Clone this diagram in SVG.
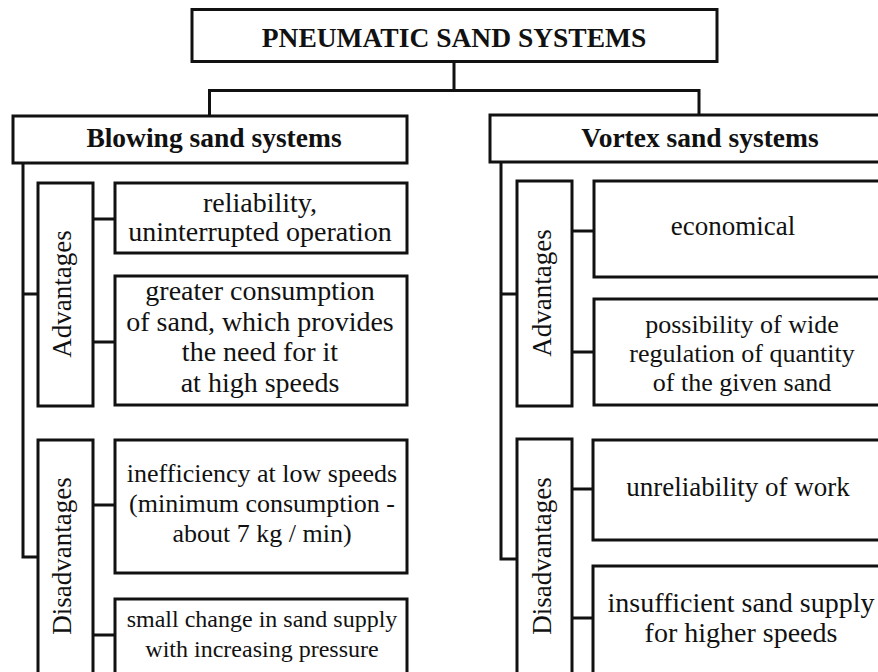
<svg xmlns="http://www.w3.org/2000/svg" width="878" height="672" viewBox="0 0 878 672">
  <style>
    .box { fill: #fff; stroke: #111; stroke-width: 3; }
    .conn { fill: none; stroke: #111; stroke-width: 3; }
    .t { font-family: "Liberation Serif", "Times New Roman", serif; font-size: 27px; text-anchor: middle; fill: #111; }
    .b { font-weight: bold; font-size: 27.5px; }
    .s28 { font-size: 28px; }
    .s26 { font-size: 26px; }
    .s24 { font-size: 24px; }
  </style>
  <rect width="878" height="672" fill="#fff"/>

  <!-- connectors -->
  <g id="connectors">
    <path class="conn" d="M454,61.5 V90.5 M209.5,90.5 H699 M209.5,89 V116 M699,89 V115"/>
    <!-- blowing column -->
    <path class="conn" d="M23,163 V557 H38 M23,294 H38"/>
    <path class="conn" d="M93,219 H115 M93,342 H115 M93,505 H115 M93,635 H115"/>
    <!-- vortex column -->
    <path class="conn" d="M501,162 V559 H517 M501,294 H517"/>
    <path class="conn" d="M572,231 H594 M572,352 H594 M572,489 H593 M572,618 H593"/>
  </g>

  <g id="root">
    <rect class="box" x="192" y="9.5" width="525" height="52"/>
    <text class="t b" x="454" y="47">PNEUMATIC SAND SYSTEMS</text>
  </g>

  <g id="blowing">
    <rect class="box" x="13" y="116" width="394" height="47"/>
    <text class="t b" x="214" y="147">Blowing sand systems</text>
  </g>

  <g id="vortex">
    <rect class="box" x="490" y="115" width="420" height="47"/>
    <text class="t b" x="700" y="147">Vortex sand systems</text>
  </g>

  <!-- blowing: advantages -->
  <g id="blowing-adv">
    <rect class="box" x="38" y="183" width="55" height="223"/>
    <text class="t" transform="translate(71 294) rotate(-90)" x="0" y="0">Advantages</text>
  </g>
  <g id="blowing-adv-1">
    <rect class="box" x="115" y="183" width="292" height="70"/>
    <text class="t s28" x="260" y="212">reliability,</text>
    <text class="t s28" x="260" y="241">uninterrupted operation</text>
  </g>
  <g id="blowing-adv-2">
    <rect class="box" x="115" y="276" width="292" height="129"/>
    <text class="t s28" x="260" y="300">greater consumption</text>
    <text class="t s28" x="260" y="330.5">of sand, which provides</text>
    <text class="t s28" x="260" y="361">the need for it</text>
    <text class="t s28" x="260" y="391.5">at high speeds</text>
  </g>

  <!-- blowing: disadvantages -->
  <g id="blowing-dis">
    <rect class="box" x="38" y="440" width="55" height="250"/>
    <text class="t" transform="translate(71 556) rotate(-90)" x="0" y="0">Disadvantages</text>
  </g>
  <g id="blowing-dis-1">
    <rect class="box" x="115" y="440" width="292" height="133"/>
    <text class="t s26" x="262" y="482">inefficiency at low speeds</text>
    <text class="t s26" x="262" y="512">(minimum consumption -</text>
    <text class="t s26" x="262" y="542">about 7 kg / min)</text>
  </g>
  <g id="blowing-dis-2">
    <rect class="box" x="115" y="599" width="292" height="90"/>
    <text class="t s24" x="262" y="627">small change in sand supply</text>
    <text class="t s24" x="262" y="657">with increasing pressure</text>
  </g>

  <!-- vortex: advantages -->
  <g id="vortex-adv">
    <rect class="box" x="517" y="181" width="55" height="225"/>
    <text class="t" transform="translate(551 293) rotate(-90)" x="0" y="0">Advantages</text>
  </g>
  <g id="vortex-adv-1">
    <rect class="box" x="594" y="181" width="300" height="96"/>
    <text class="t" x="733" y="235">economical</text>
  </g>
  <g id="vortex-adv-2">
    <rect class="box" x="594" y="299" width="300" height="106"/>
    <text class="t s26" x="742" y="333">possibility of wide</text>
    <text class="t s26" x="742" y="362">regulation of quantity</text>
    <text class="t s26" x="742" y="391">of the given sand</text>
  </g>

  <!-- vortex: disadvantages -->
  <g id="vortex-dis">
    <rect class="box" x="517" y="439" width="55" height="250"/>
    <text class="t" transform="translate(551 556) rotate(-90)" x="0" y="0">Disadvantages</text>
  </g>
  <g id="vortex-dis-1">
    <rect class="box" x="593" y="440" width="300" height="100"/>
    <text class="t" x="738" y="496">unreliability of work</text>
  </g>
  <g id="vortex-dis-2">
    <rect class="box" x="593" y="566" width="300" height="120"/>
    <text class="t s28" x="741" y="612">insufficient sand supply</text>
    <text class="t s28" x="741" y="642">for higher speeds</text>
  </g>
</svg>
